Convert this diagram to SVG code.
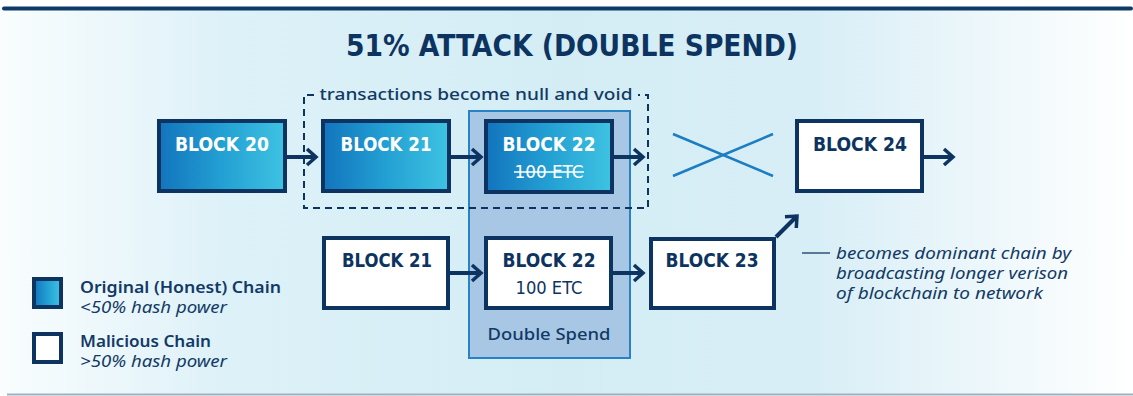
<svg xmlns="http://www.w3.org/2000/svg" width="1133" height="396" viewBox="0 0 1133 396">
  <defs>
    <linearGradient id="bg" x1="0" y1="0" x2="1" y2="0">
      <stop offset="0" stop-color="#f9fdfe"/>
      <stop offset="0.2" stop-color="#ddf1f8"/>
      <stop offset="0.5" stop-color="#d4edf5"/>
      <stop offset="0.72" stop-color="#d8eef6"/>
      <stop offset="1" stop-color="#ffffff"/>
    </linearGradient>
    <linearGradient id="blue" x1="0" y1="0" x2="1" y2="0">
      <stop offset="0" stop-color="#1274bd"/>
      <stop offset="0.5" stop-color="#23a0d3"/>
      <stop offset="1" stop-color="#3ec3e2"/>
    </linearGradient>
    <marker id="arr" viewBox="0 0 14 20" refX="11" refY="10" markerWidth="14" markerHeight="20" markerUnits="userSpaceOnUse" orient="auto">
      <path d="M2,2 L11,10 L2,18" fill="none" stroke="#0d3461" stroke-width="3.5" stroke-linecap="butt" stroke-linejoin="miter"/>
    </marker>
    <style>
      .hon { fill: url(#blue); stroke: #0d3461; stroke-width: 4; }
      .mal { fill: #ffffff; stroke: #0d3461; stroke-width: 4; }
      .lbl { font-family: "DejaVu Sans Condensed", "DejaVu Sans", sans-serif; font-weight: bold; font-size: 19px; text-anchor: middle; }
      .w { fill: #ffffff; }
      .n { fill: #0d3461; }
      .sub { font-family: "DejaVu Sans Condensed", "DejaVu Sans", sans-serif; font-size: 17px; text-anchor: middle; }
      .body { font-family: "Noto Sans", "Open Sans", sans-serif; fill: #123a66; }
      .conn { stroke: #0d3461; stroke-width: 4; fill: none; marker-end: url(#arr); }
    </style>
  </defs>

  <rect x="0" y="0" width="1133" height="396" fill="#ffffff"/>
  <rect x="0" y="10" width="1133" height="384" fill="url(#bg)"/>
  <rect x="2" y="6.5" width="1131" height="4" rx="2" fill="#0d3a66"/>
  <line x1="7" y1="394.5" x2="1133" y2="394.5" stroke="#9fb1c0" stroke-width="2"/>

  <text x="572" y="56" text-anchor="middle" font-family="DejaVu Sans Condensed, DejaVu Sans, sans-serif" font-weight="bold" font-size="31" fill="#0d3461" textLength="452" lengthAdjust="spacingAndGlyphs">51% ATTACK (DOUBLE SPEND)</text>

  <!-- double spend highlight column -->
  <g id="double-spend">
    <rect x="469" y="111" width="161" height="247" fill="#a7c7e5" stroke="#2a82c6" stroke-width="2"/>
    <text x="549" y="340" text-anchor="middle" class="body" font-size="16.5" font-weight="500" textLength="123" lengthAdjust="spacingAndGlyphs">Double Spend</text>
  </g>

  <!-- dashed null-and-void box -->
  <g id="void-box">
    <path d="M314,95 H304 V208 H648 V95 H638" fill="none" stroke="#0d3461" stroke-width="2" stroke-dasharray="7,5"/>
    <text x="476" y="100" text-anchor="middle" class="body" font-size="17" font-weight="500" textLength="313" lengthAdjust="spacingAndGlyphs">transactions become null and void</text>
  </g>

  <!-- connectors -->
  <g id="connectors">
    <line class="conn" x1="287" y1="157" x2="316" y2="157"/>
    <line class="conn" x1="451" y1="157" x2="481" y2="157"/>
    <line class="conn" x1="614" y1="157" x2="643" y2="157"/>
    <line class="conn" x1="924" y1="157" x2="953" y2="157"/>
    <line class="conn" x1="450" y1="273" x2="481" y2="273"/>
    <line class="conn" x1="613" y1="273" x2="643" y2="273"/>
    <line class="conn" x1="776" y1="237" x2="797" y2="216"/>
    <g id="cross" stroke="#1b7dc2" stroke-width="2.5">
      <line x1="673" y1="134" x2="773" y2="176"/>
      <line x1="673" y1="176" x2="773" y2="134"/>
    </g>
  </g>

  <!-- honest chain -->
  <g id="h-block20">
    <rect class="hon" x="159" y="121" width="126" height="70"/>
    <text class="lbl w" x="222" y="151" textLength="94" lengthAdjust="spacingAndGlyphs">BLOCK 20</text>
  </g>
  <g id="h-block21">
    <rect class="hon" x="323" y="121" width="126" height="70"/>
    <text class="lbl w" x="386" y="151" textLength="91" lengthAdjust="spacingAndGlyphs">BLOCK 21</text>
  </g>
  <g id="h-block22">
    <rect class="hon" x="486" y="121" width="126" height="71"/>
    <text class="lbl w" x="549" y="151" textLength="93" lengthAdjust="spacingAndGlyphs">BLOCK 22</text>
    <text class="sub w" x="549" y="178" textLength="69" lengthAdjust="spacingAndGlyphs">100 ETC</text>
    <line x1="514" y1="172" x2="584" y2="172" stroke="#ffffff" stroke-width="1.5"/>
  </g>
  <g id="h-block24">
    <rect class="mal" x="797" y="121" width="125" height="70"/>
    <text class="lbl n" x="860" y="151" textLength="94" lengthAdjust="spacingAndGlyphs">BLOCK 24</text>
  </g>

  <!-- malicious chain -->
  <g id="m-block21">
    <rect class="mal" x="324" y="238" width="124" height="70"/>
    <text class="lbl n" x="387" y="267" textLength="90" lengthAdjust="spacingAndGlyphs">BLOCK 21</text>
  </g>
  <g id="m-block22">
    <rect class="mal" x="486" y="238" width="125" height="70"/>
    <text class="lbl n" x="549" y="267" textLength="93" lengthAdjust="spacingAndGlyphs">BLOCK 22</text>
    <text class="sub n" x="549" y="294" textLength="67" lengthAdjust="spacingAndGlyphs">100 ETC</text>
  </g>
  <g id="m-block23">
    <rect class="mal" x="651" y="239" width="123" height="69"/>
    <text class="lbl n" x="712" y="267" textLength="93" lengthAdjust="spacingAndGlyphs">BLOCK 23</text>
  </g>

  <!-- annotation -->
  <g id="annotation">
    <line x1="802" y1="253" x2="830" y2="253" stroke="#123a66" stroke-width="1.3"/>
    <text class="body" font-size="15.5" font-style="italic" x="836" y="259" textLength="235" lengthAdjust="spacingAndGlyphs">becomes dominant chain by</text>
    <text class="body" font-size="15.5" font-style="italic" x="836" y="279" textLength="232" lengthAdjust="spacingAndGlyphs">broadcasting longer verison</text>
    <text class="body" font-size="15.5" font-style="italic" x="836" y="299" textLength="207" lengthAdjust="spacingAndGlyphs">of blockchain to network</text>
  </g>

  <!-- legend -->
  <g id="legend-honest">
    <rect class="hon" x="34" y="279" width="27" height="28"/>
    <text class="body" font-size="15.5" font-weight="600" x="80" y="293" textLength="201" lengthAdjust="spacingAndGlyphs">Original (Honest) Chain</text>
    <text class="body" font-size="15.5" font-style="italic" x="80" y="313" textLength="147" lengthAdjust="spacingAndGlyphs">&lt;50% hash power</text>
  </g>
  <g id="legend-malicious">
    <rect class="mal" x="34" y="334" width="27" height="28"/>
    <text class="body" font-size="15.5" font-weight="600" x="80" y="347" textLength="131" lengthAdjust="spacingAndGlyphs">Malicious Chain</text>
    <text class="body" font-size="15.5" font-style="italic" x="80" y="367" textLength="147" lengthAdjust="spacingAndGlyphs">&gt;50% hash power</text>
  </g>
</svg>
